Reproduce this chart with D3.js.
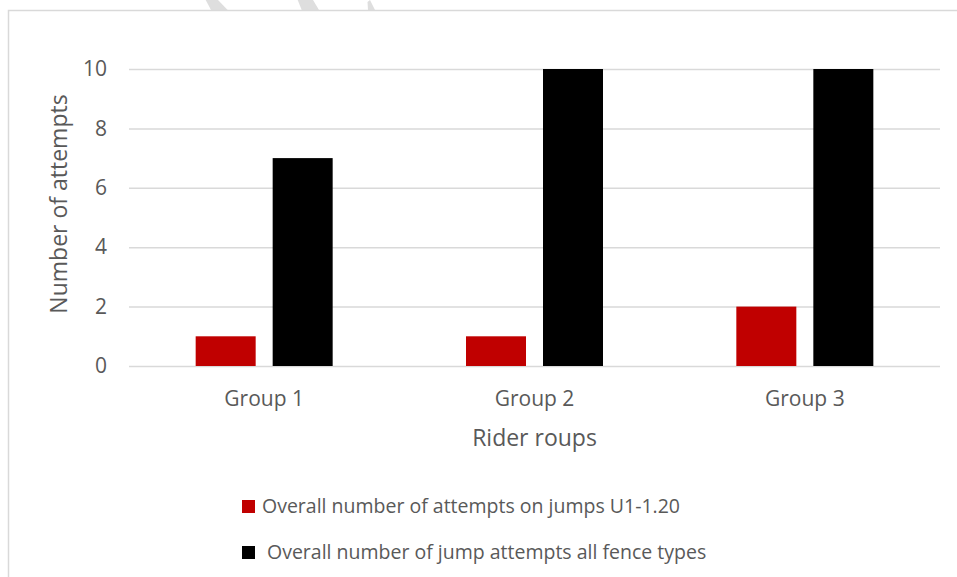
<!DOCTYPE html>
<html>
<head>
<meta charset="utf-8">
<script src="https://cdn.jsdelivr.net/npm/d3@7/dist/d3.min.js"></script>
<style>
  html, body { margin: 0; padding: 0; background: #fff; }
  svg { display: block; }
  text { font-family: "Open Sans", "Noto Sans", sans-serif; fill: #595959; }
</style>
</head>
<body>
<svg id="chart" width="957" height="577"></svg>
<script>
// Rider groups and attempt counts
const groups = ["Group 1", "Group 2", "Group 3"];
const seriesNames = [
  "Overall number of attempts on jumps U1-1.20",
  "Overall number of jump attempts all fence types"
];
const attemptsU1 = [1, 1, 2];
const attemptsAll = [7, 10, 10];
const yTicks = [0, 2, 4, 6, 8, 10];
const seriesColors = ["#C00000", "#000000"];

const svg = d3.select("#chart");
const W = 957, H = 577;
const plot = { left: 129, right: 940, top: 69, bottom: 366 };

// faint background strokes at the top edge
const strokes = [
  [[205.7, 0], [218, 0], [227.7, 10], [211, 10]],
  [[297.7, 0], [313, 0], [319, 10], [301.7, 10]],
  [[367.5, 2], [370, 0], [375, 10], [368, 10]]
];
svg.selectAll("polygon.wm").data(strokes).join("polygon")
  .attr("class", "wm")
  .attr("points", d => d.map(p => p.join(",")).join(" "))
  .attr("fill", "#dedede");

// chart frame (left and top edges)
svg.append("path")
  .attr("d", `M8.5,${H} V10.5 H${W}`)
  .attr("fill", "none")
  .attr("stroke", "#d9d9d9")
  .attr("stroke-width", 1.5);

const x = d3.scaleBand().domain(groups).range([plot.left, plot.right]).paddingInner(0).paddingOuter(0);
const y = d3.scaleLinear().domain([0, 10]).range([plot.bottom, plot.top]);

// gridlines
svg.append("g")
  .attr("transform", `translate(${plot.left},0)`)
  .call(d3.axisLeft(y).tickValues(yTicks).tickSize(-(plot.right - plot.left)).tickFormat(""))
  .call(g => g.select(".domain").remove())
  .call(g => g.selectAll("line").attr("stroke", "#d9d9d9").attr("stroke-width", 1.5));

// y tick labels
svg.append("g")
  .attr("transform", `translate(${plot.left},0)`)
  .call(d3.axisLeft(y).tickValues(yTicks).tickSize(0).tickPadding(22))
  .call(g => g.select(".domain").remove())
  .call(g => g.selectAll("text").attr("font-size", 21).style("fill", "#595959")
    .style("font-family", "'Open Sans', sans-serif"));

// bars: two series within each group band
const barW = 60, gap = 17;
const inner = d3.scaleOrdinal().domain([0, 1]).range([-(gap / 2 + barW), gap / 2]);
const rows = groups.map((g, i) => [
  { g, s: 0, v: attemptsU1[i] },
  { g, s: 1, v: attemptsAll[i] }
]).flat();
svg.append("g").selectAll("rect").data(rows).join("rect")
  .attr("x", d => x(d.g) + x.bandwidth() / 2 + inner(d.s))
  .attr("width", barW)
  .attr("y", d => y(d.v))
  .attr("height", d => y(0) - y(d.v))
  .attr("fill", d => seriesColors[d.s]);

// x category labels
svg.append("g")
  .attr("transform", `translate(0,${plot.bottom})`)
  .call(d3.axisBottom(x).tickSize(0).tickPadding(25))
  .call(g => g.select(".domain").remove())
  .call(g => g.selectAll("text").attr("font-size", 21).style("fill", "#595959")
    .style("font-family", "'Open Sans', sans-serif"));

// axis titles
svg.append("text")
  .attr("x", (plot.left + plot.right) / 2)
  .attr("y", 446)
  .attr("text-anchor", "middle")
  .attr("font-size", 23)
  .text("Rider roups");

svg.append("text")
  .attr("transform", `translate(67,204) rotate(-90)`)
  .attr("text-anchor", "middle")
  .attr("font-size", 23)
  .text("Number of attempts");

// legend
const legend = svg.append("g");
const legendRows = [
  { name: seriesNames[0], color: seriesColors[0], y: 500, tx: 262 },
  { name: seriesNames[1], color: seriesColors[1], y: 546, tx: 267 }
];
legend.selectAll("rect").data(legendRows).join("rect")
  .attr("x", 242).attr("y", d => d.y).attr("width", 13).attr("height", 13)
  .attr("fill", d => d.color);
legend.selectAll("text").data(legendRows).join("text")
  .attr("x", d => d.tx).attr("y", d => d.y + 13)
  .attr("font-size", 19.5)
  .text(d => d.name);
</script>
</body>
</html>
